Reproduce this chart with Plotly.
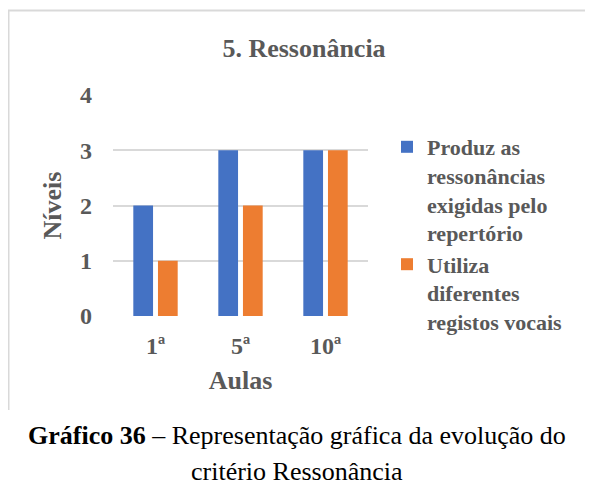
import plotly.graph_objects as go

categories = ["1ª", "5ª", "10ª"]
series1_name = "Produz as<br>ressonâncias<br>exigidas pelo<br>repertório"
series1_values = [2, 3, 3]
series2_name = "Utiliza<br>diferentes<br>registos vocais"
series2_values = [1, 2, 3]
y_ticks = [0, 1, 2, 3, 4]

FONT = "Liberation Serif, Times New Roman, serif"
GRAY = "#595959"

fig = go.Figure()
fig.add_trace(go.Bar(x=categories, y=series1_values, name="<b>" + series1_name.replace("<br>", "</b><br><b>") + "</b>",
                     marker=dict(color="#4472C4", line=dict(width=0))))
fig.add_trace(go.Bar(x=categories, y=series2_values, name="<b>" + series2_name.replace("<br>", "</b><br><b>") + "</b>",
                     marker=dict(color="#ED7D31", line=dict(width=0))))

# page has an 8px body margin; work in page coordinates and convert
OFF = 8
W, H = 593 - OFF, 488 - OFF
PL, PR, PT, PB = 113, 368, 95, 316  # plot area in page pixels
L, R, T, B = PL - OFF, W - (PR - OFF), PT - OFF, H - (PB - OFF)
pw, ph = W - L - R, H - T - B

def px(x):
    return (x - OFF - L) / pw

def py(y):
    return (H - B - (y - OFF)) / ph

fig.update_layout(
    width=W, height=H,
    margin=dict(l=L, r=R, t=T, b=B),
    paper_bgcolor="white", plot_bgcolor="white",
    barmode="group", bargap=0.42, bargroupgap=0.2,
    font=dict(family=FONT, color=GRAY, size=24),
    title=dict(text="<b>5. Ressonância</b>", x=px(304), xref="paper", xanchor="center",
               y=1 - (48 - OFF) / H, yanchor="middle", font=dict(size=26, color=GRAY, family=FONT)),
    showlegend=True,
    legend=dict(x=px(387), xanchor="left", y=py(126), yanchor="top",
                font=dict(size=22, color=GRAY, family=FONT), valign="top",
                itemwidth=30, bgcolor="rgba(0,0,0,0)", traceorder="normal"),
    xaxis=dict(showgrid=False, showline=False, zeroline=False,
               tickfont=dict(size=24, color=GRAY, family=FONT),
               ticklabelstandoff=13,
               title=dict(text="<b>Aulas</b>", font=dict(size=26, color=GRAY, family=FONT), standoff=12)),
    yaxis=dict(range=[0, 4], tickvals=y_ticks, showgrid=True, gridcolor="#D9D9D9", gridwidth=1.5,
               zeroline=False, showline=False,
               tickfont=dict(size=24, color=GRAY, family=FONT),
               ticklabelstandoff=20,
               title=dict(text="<b>Níveis</b>", font=dict(size=26, color=GRAY, family=FONT), standoff=10)),
    shapes=[
        dict(type="line", xref="paper", yref="paper", x0=px(8), x1=px(593), y0=py(10.5), y1=py(10.5),
             line=dict(color="#D9D9D9", width=2)),
        dict(type="line", xref="paper", yref="paper", x0=px(8.5), x1=px(8.5), y0=py(10), y1=py(410),
             line=dict(color="#D9D9D9", width=2)),
    ],
    annotations=[
        dict(text="<b>Gráfico 36</b> – Representação gráfica da evolução do", xref="paper", yref="paper",
             x=px(297), y=py(436), xanchor="center", yanchor="middle", showarrow=False,
             font=dict(size=26, color="black", family=FONT)),
        dict(text="critério Ressonância", xref="paper", yref="paper",
             x=px(297), y=py(471), xanchor="center", yanchor="middle", showarrow=False,
             font=dict(size=26, color="black", family=FONT)),
    ],
)
fig.update_xaxes(ticktext=["<b>%s</b>" % c for c in categories], tickvals=categories)
fig.update_yaxes(ticktext=["<b>%d</b>" % v for v in y_ticks])

fig.write_html("out.html")
